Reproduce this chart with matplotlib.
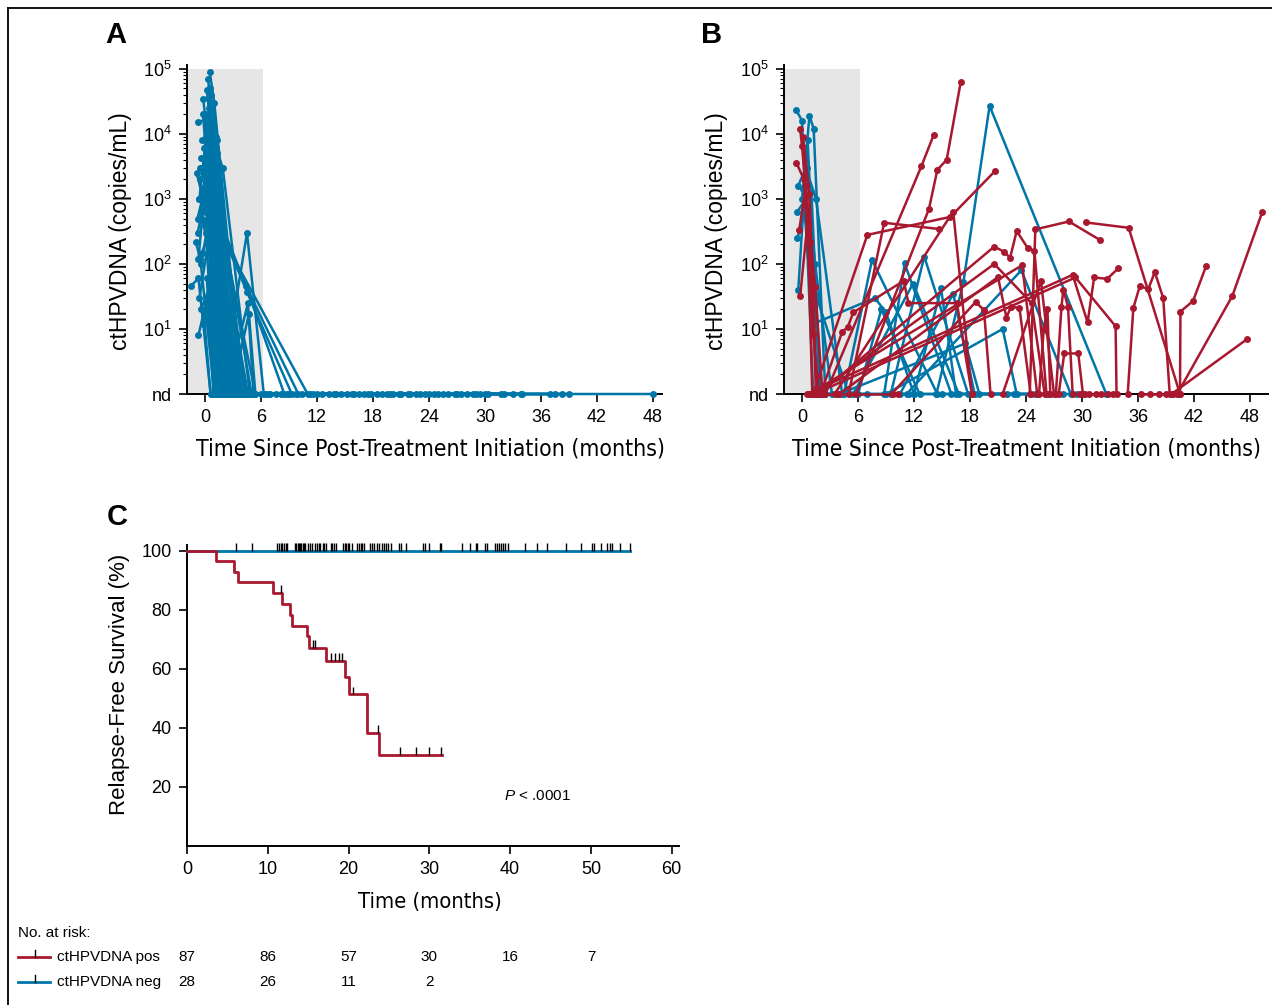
import matplotlib
matplotlib.use('Agg')
import os
import numpy as np
import matplotlib.pyplot as plt
from matplotlib.lines import Line2D
from matplotlib import transforms
from matplotlib import font_manager as fm
from matplotlib.ticker import FixedLocator, NullFormatter, LogLocator

plt.rcParams['font.family'] = ['Liberation Sans', 'DejaVu Sans']
plt.rcParams['mathtext.fontset'] = 'custom'
plt.rcParams['mathtext.rm'] = 'Liberation Sans'
plt.rcParams['mathtext.it'] = 'Liberation Sans:italic'
plt.rcParams['mathtext.bf'] = 'Liberation Sans:bold'

BLUE = '#0076A8'
RED = '#A8182F'
SHADE = '#E6E6E6'

# pick a condensed face if one is installed, else regular Liberation Sans
NARROW_PROPS = None
for f in fm.fontManager.ttflist:
    base = os.path.basename(f.fname).lower()
    if (('narrow' in base or 'condensed' in base) and 'bold' not in base and 'italic' not in base
            and 'oblique' not in base and 'light' not in base and 'semi' not in base
            and 'extra' not in base and 'mono' not in base):
        NARROW_PROPS = fm.FontProperties(fname=f.fname)
        break
if NARROW_PROPS is None:
    NARROW_PROPS = fm.FontProperties(family='Liberation Sans')

# ---------------- data: panel A, 0 = nd ----------------
A_times = [
    [0.5, 1.0, 4.0, 12.5, 24.0], [0.2, 0.9, 3.0, 9.0, 20.1], [0.3, 1.1, 2.6, 15.2],
    [-0.7, 0.4, 2.2, 8.1, 17.5], [0.0, 0.7, 1.8, 10.4], [-0.3, 0.6, 2.0, 13.3, 27.4],
    [-0.4, 0.8, 3.4, 16.0], [-0.6, 0.3, 1.6, 11.2, 30.3], [-1.0, -0.5, 1.0, 7.6],
    [-1.5, -0.7, 0.6, 6.9, 14.6], [-0.7, 0.1, 1.5, 8.8], [0.9, 1.7, 4.5, 6.3, 19.5],
    [1.3, 4.4, 8.5, 21.0], [1.4, 4.5, 9.3, 22.6], [1.5, 10.0, 25.5],
    [1.6, 11.0, 26.8, 33.9], [2.2, 4.6, 5.2, 28.1], [2.8, 4.7, 5.4, 29.0],
    [-0.2, 1.8, 12.0], [0.1, 2.4, 14.0], [0.4, 1.2, 3.8, 17.0], [0.6, 2.8, 19.0],
    [-0.1, 1.5, 20.8], [0.2, 2.1, 23.0], [-0.5, 0.9, 1.9, 24.5], [0.0, 3.2, 26.0],
    [-0.2, 0.5, 2.3, 27.0], [0.3, 1.4, 28.7], [-0.3, 3.6, 30.0], [0.1, 1.1, 31.7],
    [0.4, 2.6, 33.0], [-0.4, 0.3, 1.7, 34.0], [0.2, 0.9, 13.8], [0.5, 1.6, 15.8],
    [-0.1, 0.6, 17.8], [0.8, 2.0, 19.8], [0.0, 0.8, 2.7, 21.8], [0.6, 1.3, 3.1, 23.6],
    [0.9, 4.2, 25.0], [1.1, 3.8, 6.5, 37.0], [0.7, 1.9, 4.8, 37.5], [-0.2, 1.0, 2.4, 38.3],
    [0.3, 1.5, 3.5, 39.0], [1.0, 5.0, 48.0], [-0.6, 0.2, 1.1, 16.5], [-0.8, 0.0, 2.9, 18.4],
    [0.5, 1.3, 3.9, 22.0], [0.15, 1.45, 5.4, 29.5], [0.35, 2.5, 32.0], [-0.15, 0.55, 3.3, 9.7],
    [0.05, 0.75, 4.6, 11.6], [-0.45, 1.2, 2.2, 7.0], [0.25, 1.35, 4.1, 6.0],
    [-0.8, 0.5, 2.0], [-0.5, 1.3, 2.7], [0.7, 1.5, 3.0], [-0.3, 1.4, 3.6], [0.9, 1.6, 2.5],
    [-0.6, 0.9, 1.4], [0.4, 1.2, 4.3], [-0.9, 0.2, 1.3], [0.6, 1.45, 3.3], [-0.2, 0.8, 1.2],
    [0.1, 1.5, 2.9], [-0.7, 0.5, 1.8], [1.2, 2.0, 4.4], [0.3, 1.0, 1.6], [-0.4, 0.7, 2.6],
]
A_vals = [
    [90000, 30000, 0, 0, 0], [47000, 5000, 0, 0, 0], [36000, 1900, 0, 0],
    [15000, 18000, 0, 0, 0], [18000, 4000, 0, 0], [8000, 12000, 0, 0, 0],
    [4200, 6000, 0, 0], [1000, 2500, 0, 0, 0], [220, 120, 0, 0],
    [46, 60, 0, 0, 0], [8, 25, 0, 0], [1200, 0, 300, 0, 0],
    [600, 46, 0, 0], [450, 37, 0, 0], [330, 0, 0],
    [300, 0, 0, 0], [0, 25, 0, 0], [0, 17, 0, 0],
    [20000, 0, 0], [12000, 0, 0], [25000, 9000, 0, 0], [15000, 0, 0],
    [6000, 0, 0], [3500, 0, 0], [2000, 3000, 0, 0], [1500, 0, 0],
    [700, 1800, 0, 0], [900, 0, 0], [500, 0, 0], [300, 0, 0],
    [180, 0, 0], [100, 400, 0, 0], [60, 0, 0], [30, 0, 0],
    [15, 0, 0], [40, 0, 0], [2500, 700, 0, 0], [8000, 2000, 0, 0],
    [900, 0, 0], [650, 0, 0, 0], [10000, 3000, 0, 0], [35000, 1200, 0, 0],
    [6000, 150, 0, 0], [2000, 0, 0], [1000, 12000, 0, 0], [300, 1000, 0, 0],
    [50000, 8000, 0, 0], [20000, 600, 0, 0], [70000, 0, 0], [3000, 20000, 0, 0],
    [400, 1500, 0, 0], [20, 80, 0, 0], [15000, 2500, 0, 0],
    [500, 3000, 0], [3000, 5000, 0], [20000, 1200, 0], [150, 800, 0], [3500, 250, 0],
    [30, 700, 0], [9000, 4500, 0], [2500, 600, 0], [40000, 650, 0], [12, 90, 0],
    [5000, 1900, 0], [120, 10000, 0], [1500, 200, 0], [60, 20, 0], [600, 25000, 0],
]

# ---------------- data: panel B, blue and red, 0 = nd ----------------
B_blue_times = [
    [-0.6, 0.0, 1.2, 3.8], [0.0, 0.8, 1.25, 2.5, 11.5], [-0.4, 0.4, 1.5, 4.3, 15.0],
    [-0.5, 1.0, 2.0, 7.0], [-0.5, 0.3, 1.5, 5.0], [0.1, 1.2, 7.8, 9.0, 12.0],
    [4.5, 7.5, 14.5, 22.0], [8.8, 11.0, 16.0, 25.0], [9.5, 13.1, 17.8, 26.5],
    [12.0, 14.9, 16.5, 28.0], [14.4, 17.3, 20.1, 32.6], [10.5, 16.2, 18.5, 29.5],
    [6.0, 8.5, 12.6, 22.7], [11.2, 23.5, 28.8], [5.5, 11.9, 16.8],
    [4.0, 17.5, 19.0], [0.5, 1.4, 3.2], [-0.4, 0.6, 1.9], [9.0, 21.5, 23.0],
]
B_blue_vals = [
    [23000, 16000, 0, 0], [1000, 19000, 12000, 0, 0], [1600, 3000, 1000, 0, 0],
    [640, 1300, 0, 0], [250, 600, 33, 0], [1400, 12, 30, 18, 0],
    [0, 115, 0, 0], [0, 102, 0, 0], [0, 130, 0, 0],
    [0, 42, 0, 0], [0, 53, 27000, 0], [0, 35, 0, 0],
    [0, 20, 0, 0], [0, 80, 0], [0, 50, 0],
    [0, 6, 0], [3000, 100, 0], [40, 8000, 0], [0, 10, 0],
]
B_red_times = [
    [-0.2, 0.0, 0.9, 1.5], [-0.6, 0.2, 1.2, 1.8], [-0.3, 0.4, 1.4, 2.2],
    [-0.2, 0.6, 1.1], [0.1, 0.8, 1.6],
    [2.0, 4.3, 4.9, 5.5, 10.9, 11.4, 16.6, 18.2], [1.2, 7.0, 15.9, 20.7],
    [3.5, 16.2, 18.2], [5.0, 8.8, 14.7], [2.5, 12.8, 14.1],
    [5.8, 13.6, 14.5, 15.5, 17.0], [1.8, 20.6, 21.6, 22.3, 23.0, 24.2, 24.9, 26.2],
    [1.5, 20.6, 24.6, 26.0], [0.8, 23.6, 25.2], [9.6, 18.6, 19.5, 20.2],
    [4.0, 21.0, 21.9, 22.4, 23.3, 24.5], [0.5, 29.0, 30.6, 31.3, 32.7, 33.9],
    [1.3, 29.3, 33.6, 33.7], [24.4, 25.0, 28.6, 31.9], [30.4, 35.0, 40.5],
    [27.2, 27.8, 28.0, 28.5, 29.0], [27.5, 28.1, 29.6, 30.1],
    [34.9, 35.5, 36.2, 37.1, 37.8, 38.7, 39.4], [40.5, 40.55, 41.9, 43.3],
    [40.2, 46.1, 49.3], [39.6, 47.7], [25.4, 25.9, 26.3, 26.6], [21.5, 25.6, 27.0],
    [29.8, 30.3, 30.8, 31.5, 32.0, 32.8, 33.3], [36.3, 37.3, 38.2, 39.0, 39.8, 40.3],
    [0.7, 9.8, 10.3],
]
B_red_vals = [
    [12000, 6500, 220, 0], [3600, 2000, 8.5, 0], [330, 1600, 45, 0],
    [32, 450, 0], [9000, 1200, 0],
    [0, 9, 10.7, 18, 55, 25, 25, 0], [0, 280, 530, 2700],
    [0, 640, 0], [0, 430, 345], [0, 3200, 9600],
    [0, 700, 2800, 4000, 62000], [0, 185, 155, 125, 320, 175, 160, 0],
    [0, 100, 25, 0], [0, 96, 0], [0, 26, 19.5, 0],
    [0, 63, 15, 22, 21, 0], [0, 68, 12.6, 62, 59, 86],
    [0, 62, 11, 0], [0, 340, 450, 235], [435, 360, 0],
    [0, 22, 40, 22, 0], [0, 4.2, 4.2, 0],
    [0, 21, 46, 41, 75, 30, 0], [0, 18.5, 27, 93],
    [0, 32, 620], [0, 7], [0, 10, 20, 0], [0, 55, 0],
    [0, 0, 0, 0, 0, 0, 0], [0, 0, 0, 0, 0, 0],
    [0, 0, 0],
]

# ---------------- data: panel C (Kaplan-Meier) ----------------
km_pos_t = [0, 3.6, 5.8, 6.3, 10.7, 11.8, 12.7, 13.0, 14.8, 15.1, 17.2, 19.5, 20.1, 22.3, 23.8, 31.6]
km_pos_s = [100, 96.6, 92.9, 89.4, 85.8, 82.1, 78.3, 74.7, 71.1, 67.1, 62.8, 57.1, 51.4, 38.4, 30.8, 30.8]
km_pos_cens = [11.6, 15.6, 15.9, 17.8, 18.3, 18.8, 19.2, 20.6, 23.7, 26.4, 28.3, 30.0, 31.5]
km_neg_t = [0, 54.8]
km_neg_s = [100, 100]
km_neg_cens = [6.1, 8.1, 11.2, 11.4, 11.6, 11.8, 12.0, 12.2, 12.4, 13.4, 13.55, 13.7, 13.85,
               14.0, 14.15, 14.3, 14.45, 14.6, 15.0, 15.2, 15.5, 15.8, 16.1, 16.3, 16.5, 16.8,
               17.0, 17.2, 17.8, 18.0, 18.2, 18.4, 19.3, 19.5, 19.7, 19.9, 20.1, 20.4, 21.1,
               21.3, 21.5, 21.7, 21.9, 22.6, 22.9, 23.2, 23.5, 23.8, 24.1, 24.4, 24.6, 24.9,
               25.3, 26.3, 26.5, 27.1, 29.2, 29.4, 29.9, 31.3, 31.5, 34.1, 35.0, 35.8, 35.95,
               36.9, 37.1, 38.1, 38.35, 38.6, 38.9, 39.1, 39.4, 39.7, 41.8, 43.3, 44.6, 46.9,
               48.8, 50.1, 50.4, 51.2, 52.0, 52.3, 52.6, 53.6, 54.8]
risk_times = [0, 10, 20, 30, 40, 50]
risk_pos = [87, 86, 57, 30, 16, 7]
risk_neg = [28, 26, 11, 2]

ND = 1.0
W, H = 1272, 1005
fig = plt.figure(figsize=(W / 100, H / 100), dpi=100)


def fx(px):
    return px / W


def fy(py):
    return 1 - py / H


def draw_traj(ax, times, vals, color):
    for t, v in zip(times, vals):
        y = [val if val > 0 else ND for val in v]
        ax.plot(t, y, '-o', color=color, lw=1.8, ms=5.0, mew=0, clip_on=False, zorder=3,
                solid_joinstyle='round')


def setup_log_axis(ax, xmax):
    ax.set_yscale('log')
    ax.set_ylim(1, 10 ** 5.06)
    ax.set_xlim(-1.93, xmax)
    ax.fill_between([-1.93, 6.2], 1, 1e5, color=SHADE, lw=0, zorder=0)
    ax.set_xticks(range(0, 49, 6))
    ax.yaxis.set_major_locator(FixedLocator([1, 10, 100, 1e3, 1e4, 1e5]))
    ax.set_yticklabels(['nd', r'$\mathregular{10^1}$', r'$\mathregular{10^2}$',
                        r'$\mathregular{10^3}$', r'$\mathregular{10^4}$', r'$\mathregular{10^5}$'])
    ax.yaxis.set_minor_locator(LogLocator(base=10, subs=range(2, 10), numticks=20))
    ax.yaxis.set_minor_formatter(NullFormatter())
    for s in ['top', 'right']:
        ax.spines[s].set_visible(False)
    for s in ['left', 'bottom']:
        ax.spines[s].set_linewidth(1.4)
    ax.tick_params(which='major', direction='out', length=6, width=1.2, labelsize=13, pad=5)
    ax.tick_params(axis='y', which='minor', direction='out', length=3, width=0.8)
    ax.tick_params(axis='x', which='minor', length=0)
    ax.set_facecolor('none')


axA = fig.add_axes([fx(187), fy(394), fx(662) - fx(187), fy(65) - fy(394)])
setup_log_axis(axA, 48.97)
draw_traj(axA, A_times, A_vals, BLUE)

axB = fig.add_axes([fx(784), fy(394), fx(1268) - fx(784), fy(65) - fy(394)])
setup_log_axis(axB, 49.93)
draw_traj(axB, B_blue_times, B_blue_vals, BLUE)
draw_traj(axB, B_red_times, B_red_vals, RED)

for xc in (120, 716):
    fig.text(fx(xc), fy(231), 'ctHPVDNA (copies/mL)', rotation=90, ha='center', va='center',
             fontsize=16.5)
fitted = []
for xc in (430, 1026):
    t = fig.text(fx(xc), fy(449), 'Time Since Post-Treatment Initiation (months)', ha='center',
                 va='center', fontproperties=NARROW_PROPS.copy())
    t.set_fontsize(20)
    fitted.append((t, 470))

# ---------------- panel C ----------------
axC = fig.add_axes([fx(187), fy(846), fx(679) - fx(187), fy(545) - fy(846)])
axC.set_xlim(0, 60.9)
axC.set_ylim(0, 102)
axC.step(km_neg_t, km_neg_s, where='post', color=BLUE, lw=2.0, zorder=3, clip_on=False)
axC.step(km_pos_t, km_pos_s, where='post', color=RED, lw=2.0, zorder=3, clip_on=False)
pos_t_arr = np.array(km_pos_t)
pos_s_arr = np.array(km_pos_s)
for c in km_pos_cens:
    s = pos_s_arr[np.searchsorted(pos_t_arr, c, side='right') - 1]
    axC.vlines(c, s, s + 2.6, color='black', lw=1.0, zorder=4)
for c in km_neg_cens:
    axC.vlines(c, 100, 102.6, color='black', lw=1.0, zorder=4, clip_on=False)
axC.set_xticks(range(0, 61, 10))
axC.set_yticks([20, 40, 60, 80, 100])
for s in ['top', 'right']:
    axC.spines[s].set_visible(False)
for s in ['left', 'bottom']:
    axC.spines[s].set_linewidth(1.4)
axC.tick_params(direction='out', length=6, width=1.2, labelsize=13, pad=5)
axC.text(39.2, 16.9, r'$\mathit{P}$ < .0001', ha='left', va='center', fontsize=11)
fig.text(fx(120), fy(684), 'Relapse-Free Survival (%)', rotation=90, ha='center', va='center',
         fontsize=16)
tC = fig.text(fx(430), fy(902), 'Time (months)', ha='center', va='center',
              fontproperties=NARROW_PROPS.copy())
tC.set_fontsize(20)
fitted.append((tC, 144))

# panel letters
for lab, xc, yc in (('A', 116, 35), ('B', 712, 35), ('C', 117, 517)):
    fig.text(fx(xc), fy(yc), lab, ha='center', va='center', fontsize=21, fontweight='bold')

# risk table
fig.text(fx(18), fy(933), 'No. at risk:', ha='left', va='center', fontsize=11)
bt = transforms.blended_transform_factory(axC.transData, fig.transFigure)
for row_y, color, label, nums in ((957, RED, 'ctHPVDNA pos', risk_pos),
                                  (982, BLUE, 'ctHPVDNA neg', risk_neg)):
    fig.add_artist(Line2D([fx(18), fx(50)], [fy(row_y), fy(row_y)], color=color, lw=2.0,
                          transform=fig.transFigure))
    fig.add_artist(Line2D([fx(35), fx(35)], [fy(row_y), fy(row_y - 7)], color='black', lw=1.0,
                          transform=fig.transFigure))
    fig.text(fx(57), fy(row_y), label, ha='left', va='center', fontsize=11)
    for t, n in zip(risk_times, nums):
        fig.text(t, fy(row_y), str(n), ha='center', va='center', fontsize=11, transform=bt)

# frame lines (top and left)
fig.add_artist(Line2D([fx(8), 1.0], [fy(8), fy(8)], color='black', lw=1.3, transform=fig.transFigure))
fig.add_artist(Line2D([fx(8), fx(8)], [fy(8), 0.0], color='black', lw=1.3, transform=fig.transFigure))

# fit the condensed labels to the widths they have in the reference
fig.canvas.draw()
renderer = fig.canvas.get_renderer()
for txt, target in fitted:
    wpx = txt.get_window_extent(renderer).width
    txt.set_fontsize(min(22, txt.get_fontsize() * target / wpx))

fig.savefig('out.png', dpi=100)
